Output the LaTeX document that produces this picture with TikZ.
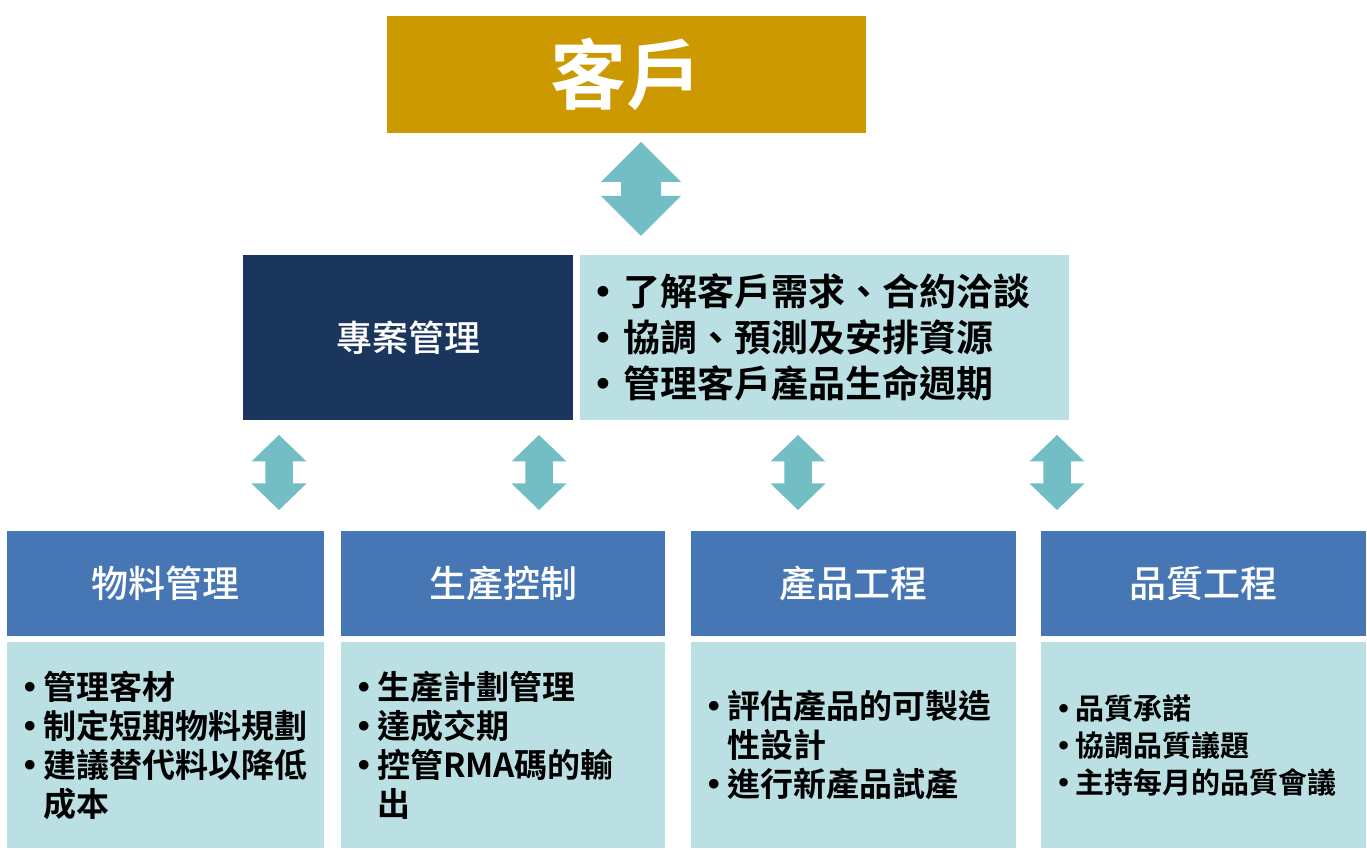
\documentclass[tikz,border=0pt]{standalone}
\usepackage{fontspec}
\setmainfont{Noto Sans CJK TC}[BoldFont={Noto Sans CJK TC Medium}]
\newfontfamily\heavyfont{Noto Sans CJK TC Bold}
\newfontfamily\dotfont{DejaVu Sans}
\usepackage{xcolor}
\definecolor{clientgold}{RGB}{204,153,0}
\definecolor{pmnavy}{RGB}{27,54,93}
\definecolor{lightcyan}{RGB}{186,224,227}
\definecolor{deptblue}{RGB}{70,118,180}
\definecolor{arrowteal}{RGB}{115,190,197}
\usepackage{tikz}
\usetikzlibrary{positioning}

\newcommand\bul[1][0.58em]{\makebox[#1][l]{\hspace{-0.1em}{\dotfont •}}}
\newcommand\ind[1][0.58em]{\hspace*{#1}}

\tikzset{
  pics/updown/.style n args={3}{code={
    \fill[arrowteal] (0,{#2/2}) -- ({#1/2},{#3}) -- ({#1/4},{#3}) -- ({#1/4},{-#3})
      -- ({#1/2},{-#3}) -- (0,{-#2/2}) -- ({-#1/2},{-#3}) -- ({-#1/4},{-#3})
      -- ({-#1/4},{#3}) -- ({-#1/2},{#3}) -- cycle;
  }},
}

\begin{document}
\begin{tikzpicture}[x=1pt, y=1pt,
    clientbox/.style={fill=clientgold, minimum width=479pt, minimum height=117pt, text=white, font=\fontsize{76}{80}\selectfont\heavyfont},
    pmbox/.style={fill=pmnavy, minimum width=330pt, minimum height=165pt, text=white, font=\fontsize{36}{40}\selectfont\bfseries},
    taskbox/.style={fill=lightcyan, minimum height=165pt, text width=457pt, inner xsep=16pt, align=left, font=\fontsize{37}{46}\selectfont\heavyfont},
    depthead/.style={fill=deptblue, minimum width=325pt, minimum height=105pt, text=white, font=\fontsize{37}{40}\selectfont\bfseries},
    deptbody/.style={fill=lightcyan, minimum height=206pt, text width=291pt, inner xsep=17pt, align=left, font=\fontsize{33}{39}\selectfont\heavyfont}]
  \useasboundingbox (0,0) rectangle (1367,850);

  % Customer
  \node[clientbox] (client) at (626.5,775.5) {客戶};
  \pic at (641,661) {updown={80}{94}{7}};

  % Project management
  \node[pmbox] (pm) at (408,512.5) {專案管理};
  \node[taskbox] (pmtask) at (824.5,512.5) {\bul[0.73em]了解客戶需求、合約洽談\\\bul[0.73em]協調、預測及安排資源\\\bul[0.73em]管理客戶產品生命週期};

  % Arrows down to departments
  \foreach \ax in {279,539,798,1057}
    \pic at (\ax,377.5) {updown={55}{75}{11}};

  % Departments
  \node[depthead, minimum width=317pt] (mat) at (165.5,266.5) {物料管理};
  \node[depthead, minimum width=324pt] (prod) at (503,266.5) {生產控制};
  \node[depthead] (eng) at (853.5,266.5) {產品工程};
  \node[depthead] (qual) at (1203.5,266.5) {品質工程};

  \node[deptbody, text width=283pt, below=6pt of mat] (matbody) {\bul 管理客材\\\bul 制定短期物料規劃\\\bul 建議替代料以降低\\\ind 成本};
  \node[deptbody, text width=290pt, below=6pt of prod] (prodbody) {\bul 生產計劃管理\\\bul 達成交期\\\bul 控管RMA碼的輸\\\ind 出};
  \node[deptbody, below=6pt of eng] (engbody) {\bul 評估產品的可製造\\\ind 性設計\\\bul 進行新產品試產};
  \node[deptbody, font=\fontsize{29}{37}\selectfont\heavyfont, below=6pt of qual] (qualbody) {\bul[0.62em]品質承諾\\\bul[0.62em]協調品質議題\\\bul[0.62em]主持每月的品質會議};
\end{tikzpicture}
\end{document}
